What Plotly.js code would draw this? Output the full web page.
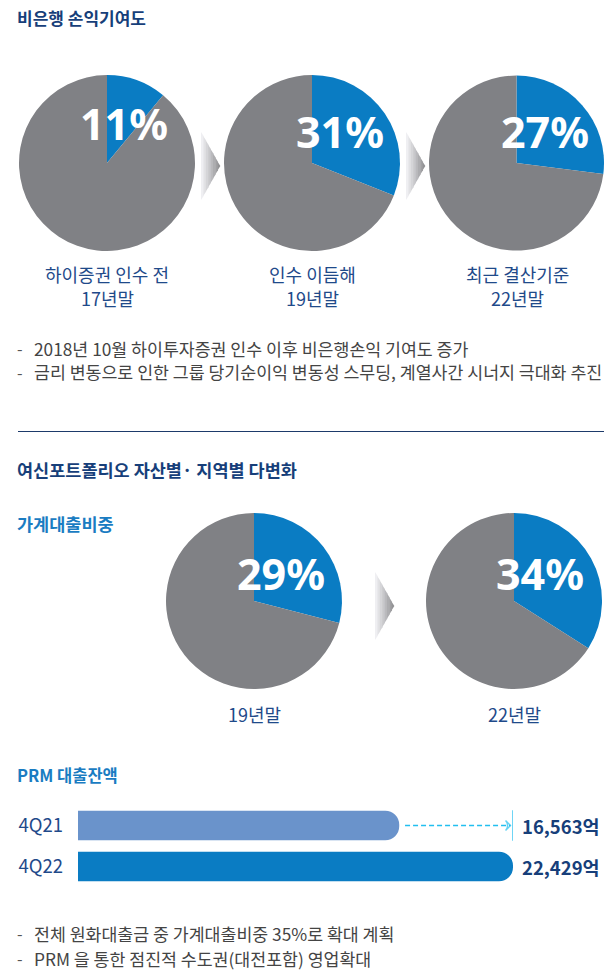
<!DOCTYPE html>
<html>
<head>
<meta charset="utf-8">
<script src="https://cdn.plot.ly/plotly-3.0.1.min.js"></script>
<style>
  html, body { margin: 0; padding: 0; background: #fff; }
  #chart { width: 604px; height: 970px; }
</style>
</head>
<body>
<div id="chart"></div>
<script>
// 비은행 손익기여도 (%)
const nonBankShare = [11, 31, 27];
const nonBankLabels = [['하이증권 인수 전', '17년말'], ['인수 이듬해', '19년말'], ['최근 결산기준', '22년말']];

// 가계대출비중 (%)
const householdShare = [29, 34];
const householdLabels = [['19년말'], ['22년말']];

// PRM 대출잔액 (억원)
const prmQuarters = ['4Q21', '4Q22'];
const prmBalance = [16563, 22429];

const notesTop = [
  '2018년 10월 하이투자증권 인수 이후 비은행손익 기여도 증가',
  '금리 변동으로 인한 그룹 당기순이익 변동성 스무딩, 계열사간 시너지 극대화 추진'
];
const notesBottom = [
  '전체 원화대출금 중 가계대출비중 35%로 확대 계획',
  'PRM 을 통한 점진적 수도권(대전포함) 영업확대'
];

const W = 604, H = 970;
const BLUE = '#0a7cc3';
const GREY = '#808185';
const NAVY = '#173f7a';
const LABEL = '#1f4a8a';
const KR = '"Noto Sans CJK KR", "Noto Sans", sans-serif';

const px = x => x / W;
const py = y => 1 - y / H;

const traces = [];
const annotations = [];
const shapes = [];

// pies: centres in pixels, radius 87
function addPie(share, cx, cy, lines, labelY, pctX, pctY) {
  traces.push({
    type: 'pie',
    values: [share, 100 - share],
    marker: {colors: [BLUE, GREY], line: {width: 0}},
    sort: false,
    direction: 'clockwise',
    rotation: 0,
    textinfo: 'none',
    hoverinfo: 'skip',
    showlegend: false,
    domain: {x: [px(cx - 88), px(cx + 88)], y: [py(cy + 88), py(cy - 88)]}
  });
  annotations.push({
    xref: 'paper', yref: 'paper', x: px(pctX), y: py(pctY), xanchor: 'center', yanchor: 'middle',
    text: '<b>' + share + '%</b>', showarrow: false,
    font: {family: '"Noto Sans", sans-serif', size: 43, color: '#ffffff'}
  });
  lines.forEach((ln, i) => {
    annotations.push({
      xref: 'paper', yref: 'paper', x: px(cx), y: py(labelY + i * 24), xanchor: 'center', yanchor: 'middle',
      text: ln, showarrow: false,
      font: {family: KR, size: 18, color: LABEL}
    });
  });
}

addPie(nonBankShare[0], 107, 163, nonBankLabels[0], 273.5, 124, 124);
addPie(nonBankShare[1], 312, 163, nonBankLabels[1], 273.5, 340, 132);
addPie(nonBankShare[2], 517, 163, nonBankLabels[2], 273.5, 545, 132);
addPie(householdShare[0], 254, 601, householdLabels[0], 714, 281, 573);
addPie(householdShare[1], 514, 601, householdLabels[1], 714, 540, 573);

// gradient chevrons between pies
function chevron(x0, x1, yTop, yBot) {
  const n = 8, yc = (yTop + yBot) / 2;
  const half = (yBot - yTop) / 2;
  for (let i = 0; i < n; i++) {
    const xa = x0 + (x1 - x0) * i / n, xb = x0 + (x1 - x0) * (i + 1) / n;
    const ha = half * (1 - i / n), hb = half * (1 - (i + 1) / n);
    const t = (i + 0.5) / n;
    const c = Math.round(246 - (246 - 140) * t);
    shapes.push({
      type: 'path', xref: 'paper', yref: 'paper',
      path: `M ${px(xa)} ${py(yc - ha)} L ${px(xb + 0.4)} ${py(yc - hb)} L ${px(xb + 0.4)} ${py(yc + hb)} L ${px(xa)} ${py(yc + ha)} Z`,
      fillcolor: `rgb(${c},${c},${c + 3})`, line: {width: 0}, layer: 'below'
    });
  }
}
chevron(201, 220, 132, 200);
chevron(406, 425, 132, 200);
chevron(375, 394, 572, 640);

// headings
function text(x, y, t, size, color, bold) {
  annotations.push({
    xref: 'paper', yref: 'paper', x: px(x), y: py(y), xanchor: 'left', yanchor: 'middle',
    text: bold ? '<b>' + t + '</b>' : t, showarrow: false,
    font: {family: KR, size: size, color: color}
  });
}
text(15, 17, '비은행 손익기여도', 17, NAVY, true);
text(15, 469, '여신포트폴리오 자산별· 지역별 다변화', 17.5, NAVY, true);
text(15, 523, '가계대출비중', 17.5, '#1a7cc2', true);
text(15, 775, 'PRM 대출잔액', 16.5, '#1a7cc2', true);

notesTop.forEach((t, i) => { text(15, 348 + i * 24, '-', 16, '#555', false); text(32, 348 + i * 24, t, 17.3, '#444', false); });
notesBottom.forEach((t, i) => { text(15, 933 + i * 25, '-', 16, '#555', false); text(32, 933 + i * 25, t, 17.3, '#444', false); });

// divider
shapes.push({type: 'line', xref: 'paper', yref: 'paper', x0: px(18), x1: 1, y0: py(431.5), y1: py(431.5),
  line: {color: '#1d3a6a', width: 1}});

// PRM bars
const maxBal = Math.max(...prmBalance);
traces.push({
  type: 'bar', orientation: 'h',
  x: prmBalance, y: prmQuarters,
  marker: {color: ['#6a93cb', BLUE], line: {width: 0}},
  width: 0.72, hoverinfo: 'skip', showlegend: false,
  xaxis: 'x', yaxis: 'y'
});
// dashed guide from 4Q21 to 4Q22 level
traces.push({
  type: 'scatter', mode: 'lines+markers',
  x: [prmBalance[0] + 300, maxBal - 130], y: [prmQuarters[0], prmQuarters[0]],
  line: {color: '#22bff0', width: 1.4, dash: '5px,3px'},
  marker: {symbol: ['circle', 'arrow-wide-open'], size: [0, 7], angle: 90,
    color: '#22bff0', line: {color: '#22bff0', width: 1.4}},
  hoverinfo: 'skip', showlegend: false, xaxis: 'x', yaxis: 'y'
});
shapes.push({type: 'line', xref: 'x', yref: 'y', x0: maxBal, x1: maxBal, y0: 0.63, y1: 1.37,
  line: {color: '#22bff0', width: 1.3}});
prmQuarters.forEach((q, i) => {
  annotations.push({
    xref: 'x', yref: 'y', x: maxBal, y: q, xanchor: 'left', xshift: 7,
    text: '<b>' + prmBalance[i].toLocaleString('en-US') + '억</b>', showarrow: false,
    font: {family: KR, size: 18.5, color: NAVY}
  });
});

const layout = {
  width: W, height: H,
  margin: {l: 0, r: 0, t: 0, b: 0},
  paper_bgcolor: '#ffffff', plot_bgcolor: 'rgba(0,0,0,0)',
  barcornerradius: 15,
  showlegend: false,
  xaxis: {domain: [px(78), px(513)], range: [0, maxBal], visible: false, fixedrange: true},
  yaxis: {domain: [py(887), py(805)], type: 'category', categoryorder: 'array',
    categoryarray: prmQuarters.slice().reverse(), range: [-0.5, 1.5],
    showgrid: false, zeroline: false, showline: false, ticks: '',
    ticklabelstandoff: 14,
    tickfont: {family: KR, size: 18.5, color: LABEL}, fixedrange: true},
  annotations: annotations,
  shapes: shapes
};

Plotly.newPlot('chart', traces, layout, {staticPlot: true, displayModeBar: false});
</script>
</body>
</html>
